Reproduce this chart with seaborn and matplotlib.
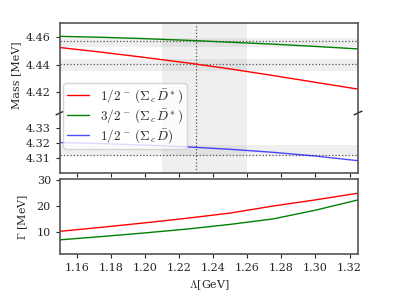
import matplotlib
matplotlib.use("Agg")
import matplotlib.pyplot as plt
import numpy as np
import pandas as pd
import seaborn as sns

# cutoff values (GeV)
lam = [1.15, 1.175, 1.20, 1.225, 1.25, 1.275, 1.30, 1.325]

# masses (GeV)
m_half_dstar = [4.4525, 4.4490, 4.4452, 4.4412, 4.4368, 4.4320, 4.4270, 4.4220]
m_32_dstar = [4.4607, 4.4600, 4.4590, 4.4578, 4.4564, 4.4550, 4.4533, 4.4515]
m_half_d = [4.3203, 4.3196, 4.3186, 4.3174, 4.3158, 4.3138, 4.3113, 4.3082]

# widths (MeV)
g_half_dstar = [10.1, 11.7, 13.4, 15.2, 17.2, 19.9, 22.3, 24.9]
g_32_dstar = [6.8, 8.1, 9.5, 11.0, 12.8, 14.9, 18.3, 22.3]

# experimental Pc states: central, low, high
exp_4457 = [4.4573, 4.4532, 4.4596]
exp_4440 = [4.4403, 4.4356, 4.4444]
exp_4312 = [4.3119, 4.3113, 4.3187]

lam_band = [1.21, 1.26]
lam_best = 1.23

labels = [r'$1/2^-\;(\Sigma_c\,\bar{D}^*)$',
          r'$3/2^-\;(\Sigma_c\,\bar{D}^*)$',
          r'$1/2^-\;(\Sigma_c\,\bar{D})$']

df = pd.DataFrame({'lam': lam, 'm1': m_half_dstar, 'm2': m_32_dstar, 'm3': m_half_d,
                   'g1': g_half_dstar, 'g2': g_32_dstar})

sns.set_style('ticks')
plt.rcParams['font.family'] = ['DejaVu Serif']
plt.rcParams['mathtext.fontset'] = 'cm'
plt.rcParams['axes.edgecolor'] = '#555555'
plt.rcParams['axes.linewidth'] = 1.2
plt.rcParams['xtick.major.size'] = 3
plt.rcParams['ytick.major.size'] = 3
plt.rcParams['xtick.labelsize'] = 8
plt.rcParams['ytick.labelsize'] = 8
plt.rcParams['axes.labelsize'] = 8

fig = plt.figure(figsize=(3.99, 2.99), dpi=100)
ax_top = fig.add_axes([0.1504, 0.6221, 0.7469, 0.3010])
ax_mid = fig.add_axes([0.1504, 0.4214, 0.7469, 0.2007])
ax_g = fig.add_axes([0.1504, 0.1505, 0.7469, 0.2508])

for ax in (ax_top, ax_mid):
    ax.axvspan(lam_band[0], lam_band[1], color='gray', alpha=0.12, lw=0)
    ax.axvline(lam_best, color='#555555', ls=':', lw=0.9)
for ax, e in ((ax_top, exp_4457), (ax_top, exp_4440), (ax_mid, exp_4312)):
    ax.axhspan(e[1], e[2], color='gray', alpha=0.12, lw=0)
    ax.axhline(e[0], color='#555555', ls=':', lw=0.9)

h1 = sns.lineplot(data=df, x='lam', y='m1', color='red', lw=1.0, ax=ax_top).lines[-1]
h2 = sns.lineplot(data=df, x='lam', y='m2', color='green', lw=1.0, ax=ax_top).lines[-1]
sns.lineplot(data=df, x='lam', y='m1', color='red', lw=1.0, ax=ax_mid)
sns.lineplot(data=df, x='lam', y='m2', color='green', lw=1.0, ax=ax_mid)
h3 = sns.lineplot(data=df, x='lam', y='m3', color='blue', lw=1.0, alpha=0.7, ax=ax_mid).lines[-1]
sns.lineplot(data=df, x='lam', y='g1', color='red', lw=1.0, ax=ax_g)
sns.lineplot(data=df, x='lam', y='g2', color='green', lw=1.0, ax=ax_g)

for ax in (ax_top, ax_mid, ax_g):
    ax.set_xlim(1.15, 1.325)
    ax.set_xlabel('')
    ax.set_ylabel('')

ax_top.set_ylim(4.4045, 4.4705)
ax_top.set_yticks([4.42, 4.44, 4.46])
ax_top.spines['bottom'].set_visible(False)
ax_top.tick_params(axis='x', bottom=False, labelbottom=False)

ax_mid.set_ylim(4.300, 4.340)
ax_mid.set_yticks([4.31, 4.32, 4.33])
ax_mid.spines['top'].set_visible(False)
ax_mid.tick_params(axis='x', labelbottom=False)
ax_mid.set_xticks(np.arange(1.16, 1.33, 0.02))

ax_g.set_ylim(1.3, 30.4)
ax_g.set_yticks([10, 20, 30])
ax_g.set_xticks(np.arange(1.16, 1.33, 0.02))
ax_g.set_xticklabels([f'{v:.2f}' for v in np.arange(1.16, 1.33, 0.02)])

# break marks
kw = dict(transform=ax_mid.transAxes, color='#222222', lw=1.0, clip_on=False)
ax_mid.plot([-0.013, 0.013], [0.97, 1.03], **kw)
ax_mid.plot([0.987, 1.013], [0.97, 1.03], **kw)

ax_top.set_ylabel('Mass [MeV]')
ax_top.yaxis.set_label_coords(-0.131, 0.42)
ax_g.set_ylabel(r'$\Gamma$ [MeV]')
ax_g.yaxis.set_label_coords(-0.10, 0.5)
ax_g.set_xlabel(r'$\Lambda$[GeV]')

fig.legend([h1, h2, h3], labels, loc='upper left', bbox_to_anchor=(63 / 399, 1 - 83 / 299),
           borderaxespad=0, fontsize=9.5, frameon=True, edgecolor='0.8',
           handlelength=1.7, labelspacing=0.15, borderpad=0.3)

fig.savefig('out.png', dpi=100)
